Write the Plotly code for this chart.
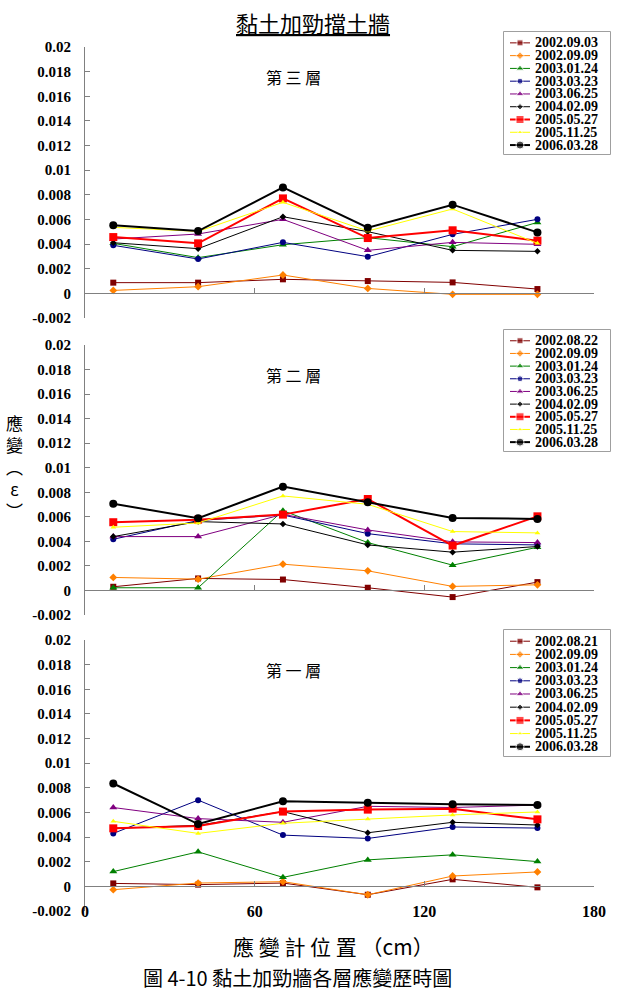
import plotly.graph_objects as go

# ---------------- data ----------------
x_pos = [10, 40, 70, 100, 130, 160]

dates_layer3 = ["2002.09.03", "2002.09.09", "2003.01.24", "2003.03.23", "2003.06.25",
                "2004.02.09", "2005.05.27", "2005.11.25", "2006.03.28"]
dates_layer2 = ["2002.08.22", "2002.09.09", "2003.01.24", "2003.03.23", "2003.06.25",
                "2004.02.09", "2005.05.27", "2005.11.25", "2006.03.28"]
dates_layer1 = ["2002.08.21", "2002.09.09", "2003.01.24", "2003.03.23", "2003.06.25",
                "2004.02.09", "2005.05.27", "2005.11.25", "2006.03.28"]

layer3 = [
    [0.00087, 0.00087, 0.00114, 0.00100, 0.00089, 0.00035],
    [0.00024, 0.00054, 0.00149, 0.00040, -0.00008, -0.00008],
    [0.00406, 0.00290, 0.00395, 0.00452, 0.00379, 0.00576],
    [0.00390, 0.00279, 0.00414, 0.00298, 0.00479, 0.00601],
    [0.00441, 0.00482, 0.00601, 0.00349, 0.00414, 0.00398],
    [0.00411, 0.00363, 0.00622, 0.00501, 0.00349, 0.00341],
    [0.00457, 0.00406, 0.00771, 0.00449, 0.00512, 0.00428],
    [0.00536, 0.00503, 0.00739, 0.00506, 0.00685, 0.00406],
    [0.00552, 0.00506, 0.00860, 0.00533, 0.00720, 0.00495],
]
layer2 = [
    [0.00030, 0.00098, 0.00089, 0.00022, -0.00054, 0.00068],
    [0.00106, 0.00092, 0.00214, 0.00160, 0.00033, 0.00046],
    [0.00022, 0.00022, 0.00650, 0.00390, 0.00206, 0.00352],
    [0.00417, 0.00570, 0.00615, 0.00463, 0.00380, 0.00371],
    [0.00439, 0.00439, 0.00620, 0.00493, 0.00396, 0.00390],
    [0.00439, 0.00561, 0.00542, 0.00371, 0.00312, 0.00358],
    [0.00556, 0.00577, 0.00618, 0.00745, 0.00366, 0.00604],
    [0.00515, 0.00550, 0.00770, 0.00702, 0.00480, 0.00469],
    [0.00707, 0.00588, 0.00846, 0.00718, 0.00591, 0.00583],
]
layer1 = [
    [0.00024, 0.00014, 0.00027, -0.00068, 0.00057, -0.00008],
    [-0.00027, 0.00027, 0.00038, -0.00068, 0.00084, 0.00117],
    [0.00120, 0.00280, 0.00073, 0.00215, 0.00256, 0.00201],
    [0.00430, 0.00700, 0.00416, 0.00389, 0.00482, 0.00473],
    [0.00640, 0.00550, 0.00520, 0.00650, 0.00640, 0.00660],
    [0.00471, 0.00495, 0.00607, 0.00435, 0.00520, 0.00498],
    [0.00471, 0.00490, 0.00607, 0.00623, 0.00631, 0.00544],
    [0.00528, 0.00430, 0.00512, 0.00547, 0.00580, 0.00604],
    [0.00835, 0.00506, 0.00691, 0.00678, 0.00667, 0.00661],
]

y_tickvals = [0.02, 0.018, 0.016, 0.014, 0.012, 0.01, 0.008, 0.006, 0.004, 0.002, 0, -0.002]
y_ticktext = ["0.02", "0.018", "0.016", "0.014", "0.012", "0.01", "0.008", "0.006",
              "0.004", "0.002", "0", "-0.002"]
x_tickvals = [0, 60, 120, 180]
x_ticktext = ["0", "60", "120", "180"]

panel_labels = ["第 三 層", "第 二 層", "第 一 層"]

# ---------------- styles ----------------
colors = ["#800000", "#FF8000", "#008000", "#000080", "#800080",
          "#000000", "#FF0000", "#FFFF00", "#000000"]
symbols = ["square", "diamond", "triangle-up", "circle", "triangle-up",
           "diamond", "square", "triangle-up", "circle"]
msizes = [6, 6, 7, 6, 7, 5, 8, 5, 8]
lwidths = [1, 1, 1, 1, 1, 1, 2, 1, 2]

W, H = 618, 994
ML, MR = 85, 4
PW = W - ML - MR


def fx(px):
    return (px - ML) / PW


def fy(py):
    return 1 - py / H


panels_px = [(47, 318), (345, 615), (640, 911)]
legend_px = [(32, 154), (330, 451), (630, 756)]
x_end_px = 594
leg_x_px = (504, 610)

serif = "Liberation Serif"
cjk = "Noto Sans CJK TC"


def b(s):
    return "<b>" + s + "</b>"


fig = go.Figure()
layers = [layer3, layer2, layer1]
dates = [dates_layer3, dates_layer2, dates_layer1]

layout = dict(width=W, height=H,
              margin=dict(l=ML, r=MR, t=0, b=0, autoexpand=False),
              plot_bgcolor="white", paper_bgcolor="white", showlegend=False,
              font=dict(family=serif))

annotations = []
shapes = []

for p in range(3):
    xa = "x" if p == 0 else f"x{p + 1}"
    ya = "y" if p == 0 else f"y{p + 1}"
    top, bot = panels_px[p]
    d0, d1 = fy(bot), fy(top)
    zero_pos = d0 + (d1 - d0) * (0.002 / 0.022)
    for i, series in enumerate(layers[p]):
        fig.add_trace(go.Scatter(
            x=x_pos, y=series, xaxis=xa, yaxis=ya, mode="lines+markers",
            name=dates[p][i],
            line=dict(color=colors[i], width=lwidths[i]),
            marker=dict(color=colors[i], symbol=symbols[i], size=msizes[i]),
        ))
    layout["xaxis" if p == 0 else f"xaxis{p + 1}"] = dict(
        domain=[0, fx(x_end_px)], range=[0, 180], anchor="free", position=zero_pos,
        showline=True, linecolor="#808080", linewidth=1, ticks="inside", ticklen=5,
        tickcolor="#808080", tickvals=x_tickvals, showticklabels=False,
        showgrid=False, zeroline=False,
    )
    layout["yaxis" if p == 0 else f"yaxis{p + 1}"] = dict(
        domain=[d0, d1], range=[-0.002, 0.02], anchor=xa,
        showline=True, linecolor="#808080", linewidth=1, ticks="inside", ticklen=5,
        tickcolor="#808080", tickvals=y_tickvals, ticktext=[b(t) for t in y_ticktext],
        tickfont=dict(family=serif, size=15, color="black"),
        ticklabelstandoff=10, showgrid=False, zeroline=False,
    )
    annotations.append(dict(text=panel_labels[p], xref="paper", yref="paper",
                            x=fx(293), y=fy(top + 30), xanchor="center", yanchor="middle",
                            showarrow=False,
                            font=dict(family=cjk, size=16, color="black")))

    # compact legend drawn on its own small axes
    lx = f"x{p + 5}"
    ly = f"y{p + 5}"
    lt, lb = legend_px[p]
    layout[f"xaxis{p + 5}"] = dict(domain=[fx(leg_x_px[0]), fx(leg_x_px[1])],
                                   range=[0, leg_x_px[1] - leg_x_px[0]], anchor=ly,
                                   visible=False, fixedrange=True)
    layout[f"yaxis{p + 5}"] = dict(domain=[fy(lb), fy(lt)], range=[8.7, -0.85],
                                   anchor=lx, visible=False, fixedrange=True)
    shapes.append(dict(type="rect", xref=f"{lx} domain", yref=f"{ly} domain",
                       x0=0, x1=1, y0=0, y1=1, line=dict(color="#808080", width=1.5),
                       fillcolor="white", layer="below"))
    for i, name in enumerate(dates[p]):
        fig.add_trace(go.Scatter(
            x=[6, 16, 26], y=[i, i, i], xaxis=lx, yaxis=ly, mode="lines+markers",
            line=dict(color=colors[i], width=lwidths[i]),
            marker=dict(color=colors[i], symbol=symbols[i], size=[0, msizes[i], 0]),
            hoverinfo="skip",
        ))
        annotations.append(dict(text=b(name), xref=lx, yref=ly, x=29, y=i,
                                xanchor="left", yanchor="middle", showarrow=False,
                                font=dict(family=serif, size=14, color="black")))

# bottom x tick labels on an overlaid axis
top3, bot3 = panels_px[2]
layout["xaxis4"] = dict(domain=[0, fx(x_end_px)], range=[0, 180], overlaying="x3",
                        anchor="free", position=fy(bot3 - 11), showline=False, ticks="",
                        tickvals=x_tickvals, ticktext=[b(t) for t in x_ticktext],
                        tickfont=dict(family=serif, size=16, color="black"),
                        showgrid=False, zeroline=False)
fig.add_trace(go.Scatter(x=x_tickvals, y=[0] * len(x_tickvals), xaxis="x4", yaxis="y3",
                         mode="markers", marker=dict(opacity=0, size=1),
                         hoverinfo="skip"))

# titles
annotations.append(dict(text='<span style="text-decoration:underline">黏土加勁擋土牆</span>',
                        xref="paper", yref="paper", x=fx(313), y=fy(22),
                        xanchor="center", yanchor="middle", showarrow=False,
                        font=dict(family=cjk, size=22, color="black")))
annotations.append(dict(text="應<br>變<br>︵<br>ε<br>︶", xref="paper", yref="paper",
                        x=fx(14), y=fy(466), xanchor="center", yanchor="middle",
                        showarrow=False,
                        font=dict(family=cjk, size=17, color="black")))
annotations.append(dict(text="應 變 計 位 置 （cm）", xref="paper", yref="paper",
                        x=fx(333), y=fy(946), xanchor="center", yanchor="middle",
                        showarrow=False,
                        font=dict(family=cjk, size=21, color="black")))
annotations.append(dict(text="圖 4-10 黏土加勁牆各層應變歷時圖", xref="paper", yref="paper",
                        x=fx(297), y=fy(977), xanchor="center", yanchor="middle",
                        showarrow=False,
                        font=dict(family=cjk, size=20, color="black")))

layout["annotations"] = annotations
layout["shapes"] = shapes
fig.update_layout(**layout)
fig.write_html("out.html")
